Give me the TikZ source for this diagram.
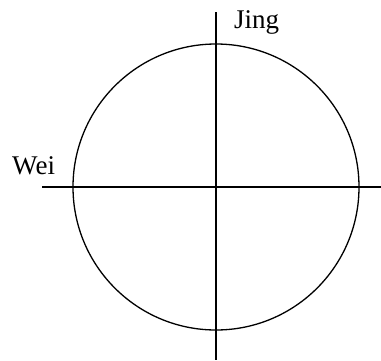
\documentclass[tikz,border=0pt]{standalone}
\usepackage{fontspec}
\setmainfont{Liberation Serif}
\usetikzlibrary{positioning}

\begin{document}
\begin{tikzpicture}[x=1pt, y=-1pt,
  axis/.style={line width=1.3pt},
  ring/.style={draw, circle, line width=1.3pt, minimum size=286pt, inner sep=0pt},
  lbl/.style={font=\fontsize{27}{27}\selectfont, inner sep=0pt, anchor=base west}
]
  \useasboundingbox (0,0) rectangle (381,360);
  \node[ring] (earth) at (216,187) {};
  \coordinate (ntop) at (216,12);
  \coordinate (nbot) at (216,360);
  \coordinate (wleft) at (42,187);
  \coordinate (wright) at (381,187);

  \draw[axis] (ntop) -- (nbot);
  \draw[axis] (wleft) -- (wright);

  \node[lbl] (jing) at (234,28) {Jing};
  \node[lbl] (wei) at (12,174) {Wei};
\end{tikzpicture}
\end{document}
